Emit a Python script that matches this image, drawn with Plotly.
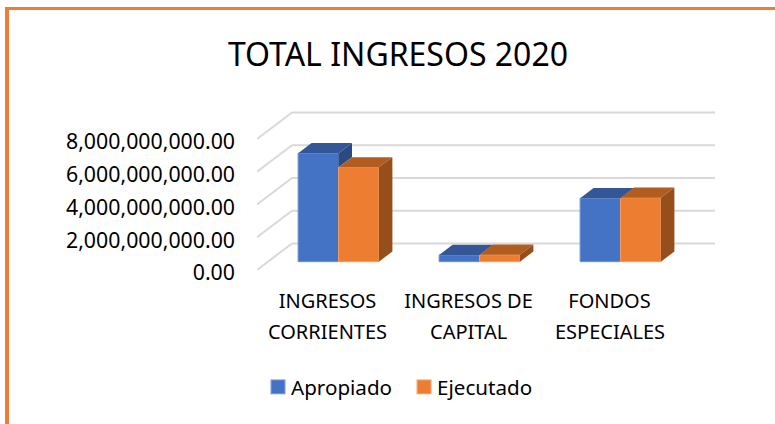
import plotly.graph_objects as go

FONT = "Noto Sans"
line_one = ["INGRESOS", "INGRESOS DE", "FONDOS"]
line_two = ["CORRIENTES", "CAPITAL", "ESPECIALES"]
apropiado = [6.62e9, 0.41e9, 3.87e9]
ejecutado = [5.76e9, 0.42e9, 3.90e9]
y_ticks = [0, 2e9, 4e9, 6e9, 8e9]
x_centers = [0.5, 1.5, 2.5]

BLUE, BLUE_TOP, BLUE_SIDE = "#4472c4", "#335796", "#2a4a82"
ORANGE, ORANGE_TOP, ORANGE_SIDE = "#ed7d31", "#b25d20", "#964f1a"
GRID = "#d9d9d9"
BORDER = "#ed7d31"

W, H = 775, 424
ML, MR, MT, MB = 257, 60, 100, 154
PW, PH = W - ML - MR, H - MT - MB
PX_X = 141.0
PX_Y = 131.0 / 8e9
X_MAX = PW / PX_X
Y_MAX = PH / PX_Y
WALL_X, WALL_Y = 35 / PX_X, 26.5 / PX_Y
BAR_W = 40.4 / PX_X
FRONT = 11 / 35
BACK = 24.5 / 35
fx, fy = FRONT * WALL_X, FRONT * WALL_Y
bx, by = (BACK - FRONT) * WALL_X, (BACK - FRONT) * WALL_Y

fig = go.Figure()
shift = [c + fx for c in x_centers]


def poly(xs, ys, color):
    fig.add_trace(go.Scatter(x=xs, y=ys, mode="lines", fill="toself", fillcolor=color,
                             line=dict(width=0, color=color), hoverinfo="skip", showlegend=False))


fig.add_trace(go.Bar(name="Apropiado", x=shift, y=apropiado, base=fy, marker=dict(color=BLUE, line=dict(width=1, color="#6f92d6"))))
fig.add_trace(go.Bar(name="Ejecutado", x=shift, y=ejecutado, base=fy, marker=dict(color=ORANGE, line=dict(width=1, color="#f29b62"))))

for c, a, e in zip(shift, apropiado, ejecutado):
    l, m, r = c - BAR_W, c, c + BAR_W
    ta, te = a + fy, e + fy
    if ta > te:
        poly([m, m + bx, m + bx, m], [ta, ta + by, te + by, te], BLUE_SIDE)
    poly([l, l + bx, m + bx, m], [ta, ta + by, ta + by, ta], BLUE_TOP)
    poly([m, m + bx, r + bx, r], [te, te + by, te + by, te], ORANGE_TOP)
    poly([r, r + bx, r + bx, r], [te, te + by, fy + by, fy], ORANGE_SIDE)

for v in y_ticks:
    fig.add_shape(type="line", layer="below", x0=0, y0=v, x1=WALL_X, y1=v + WALL_Y, line=dict(color=GRID, width=2))
    fig.add_shape(type="line", layer="below", x0=WALL_X, y0=v + WALL_Y, x1=X_MAX, y1=v + WALL_Y, line=dict(color=GRID, width=2))

for c, t in zip(x_centers, line_two):
    fig.add_annotation(x=c, y=0, xref="x", yref="y", text=t, showarrow=False, yshift=-61,
                       xanchor="center", yanchor="middle", font=dict(family=FONT, size=20, color="#000"))

fig.add_shape(type="line", xref="paper", yref="paper", layer="above", x0=(7 - ML) / PW, x1=(7 - ML) / PW,
              y0=-MB / PH, y1=(H - 8 - MB) / PH, line=dict(color=BORDER, width=4))
fig.add_shape(type="line", xref="paper", yref="paper", layer="above", x0=(5 - ML) / PW, x1=(W - ML) / PW,
              y0=(H - 8.5 - MB) / PH, y1=(H - 8.5 - MB) / PH, line=dict(color=BORDER, width=3))

fig.update_layout(
    width=W, height=H, autosize=False, margin=dict(l=ML, r=MR, t=MT, b=MB),
    paper_bgcolor="white", plot_bgcolor="rgba(0,0,0,0)",
    barmode="group", bargap=1 - 2 * BAR_W, bargroupgap=0,
    title=dict(text="TOTAL INGRESOS 2020", x=398 / W, xanchor="center", y=1 - 55 / H, yanchor="middle",
               font=dict(family=FONT, size=32, color="#000")),
    font=dict(family=FONT, color="#000"),
    xaxis=dict(range=[0, X_MAX], tickvals=x_centers, ticktext=line_one, ticklabelstandoff=17, ticks="",
               showgrid=False, zeroline=False, showline=False, tickfont=dict(size=20)),
    yaxis=dict(range=[0, Y_MAX], tickvals=y_ticks, tickformat=",.2f", ticklabelstandoff=21, ticks="",
               showgrid=False, zeroline=False, showline=False, tickfont=dict(size=21.3)),
    legend=dict(orientation="h", x=(251 - ML) / PW, xanchor="left", y=1 - 387 / H, yanchor="middle", yref="container",
                font=dict(size=20.6), traceorder="normal", bgcolor="rgba(0,0,0,0)"),
)
post = """
document.body.style.margin='0';
document.querySelectorAll('.legendsymbols').forEach(function(s){
  s.setAttribute('transform','translate(4,0) scale(1.15)');
});
document.querySelectorAll('.yaxislayer-above').forEach(function(s){
  s.setAttribute('transform','translate(0,3)');
});
"""
fig.write_html("out.html", post_script=post, config=dict(displayModeBar=False))
